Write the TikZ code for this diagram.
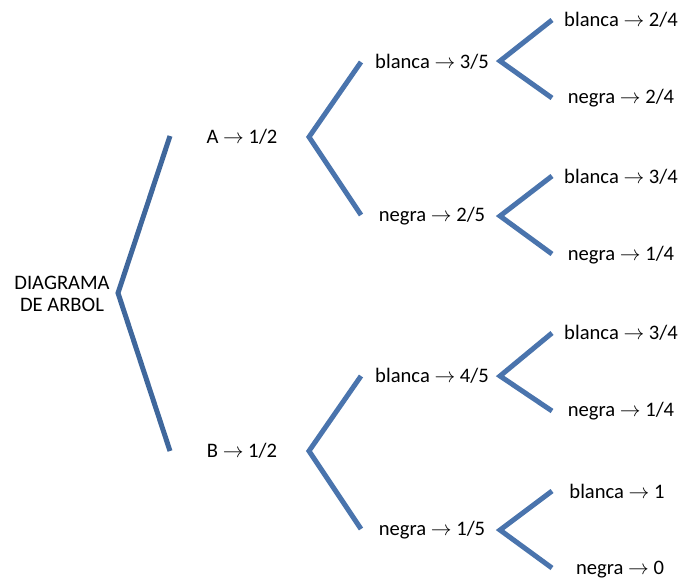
\documentclass[tikz,border=0pt]{standalone}
\usepackage{fontspec}
\setmainfont{Carlito}
\begin{document}
\begin{tikzpicture}[x=1pt,y=-1pt,
  lbl/.style={inner sep=0pt, font=\fontsize{20.6}{22.5}\selectfont},
  branch/.style={line width=5pt, draw=branchblue, line join=miter},
  rootbranch/.style={line width=5pt, draw=rootblue, line join=miter}]
\definecolor{branchblue}{HTML}{4A74AD}
\definecolor{rootblue}{HTML}{3F679C}
\useasboundingbox (0,0) rectangle (684,583);

% labels
\node[lbl, align=center] (root) at (62,294) {DIAGRAMA\\DE ARBOL};
\node[lbl] (a) at (242,137) {A $\to$ 1/2};
\node[lbl] (b) at (242,451) {B $\to$ 1/2};
\node[lbl] (ab) at (432,62) {blanca $\to$ 3/5};
\node[lbl] (an) at (432,216) {negra $\to$ 2/5};
\node[lbl] (bb) at (432,376) {blanca $\to$ 4/5};
\node[lbl] (bn) at (432,530) {negra $\to$ 1/5};
\node[lbl] (abb) at (621,20) {blanca $\to$ 2/4};
\node[lbl] (abn) at (621,98) {negra $\to$ 2/4};
\node[lbl] (anb) at (621,177) {blanca $\to$ 3/4};
\node[lbl] (ann) at (621,255) {negra $\to$ 1/4};
\node[lbl] (bbb) at (621,333) {blanca $\to$ 3/4};
\node[lbl] (bbn) at (621,411) {negra $\to$ 1/4};
\node[lbl] (bnb) at (617,491) {blanca $\to$ 1};
\node[lbl] (bnn) at (620,570) {negra $\to$ 0};

% fork points and branch ends
\coordinate (r0) at (118,293);
\coordinate (r1) at (170,136);
\coordinate (r2) at (170,451);
\coordinate (a0) at (309,137);
\coordinate (a1) at (361,62);
\coordinate (a2) at (361,215);
\coordinate (b0) at (309,451);
\coordinate (b1) at (361,376);
\coordinate (b2) at (361,529);
\coordinate (ab0) at (500,61);
\coordinate (ab1) at (552,20);
\coordinate (ab2) at (552,98);
\coordinate (an0) at (500,216);
\coordinate (an1) at (552,176);
\coordinate (an2) at (552,254);
\coordinate (bb0) at (500,376);
\coordinate (bb1) at (552,333);
\coordinate (bb2) at (552,411);
\coordinate (bn0) at (500,530);
\coordinate (bn1) at (552,491);
\coordinate (bn2) at (552,568);

% branches
\draw[rootbranch] (r1) -- (r0) -- (r2);
\draw[branch] (a1) -- (a0) -- (a2);
\draw[branch] (b1) -- (b0) -- (b2);
\draw[branch] (ab1) -- (ab0) -- (ab2);
\draw[branch] (an1) -- (an0) -- (an2);
\draw[branch] (bb1) -- (bb0) -- (bb2);
\draw[branch] (bn1) -- (bn0) -- (bn2);
\end{tikzpicture}
\end{document}
